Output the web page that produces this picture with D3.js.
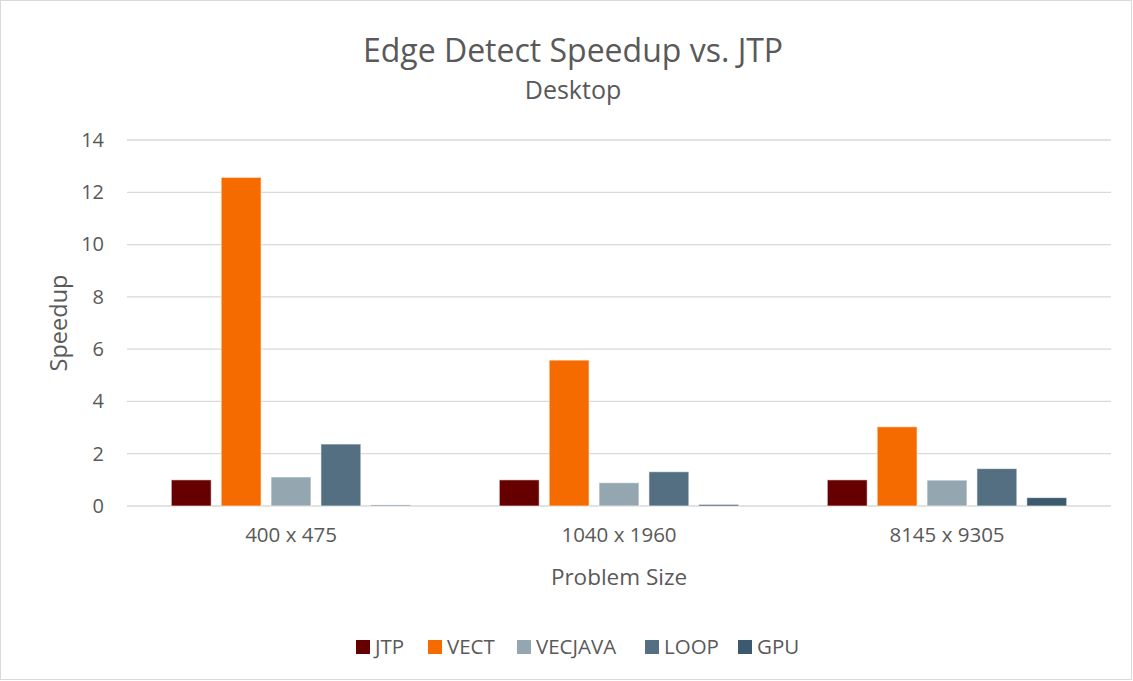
<!DOCTYPE html>
<html><head><meta charset="utf-8">
<script src="https://cdn.jsdelivr.net/npm/d3@7"></script>
<style>body{margin:0;background:#fff}svg{display:block;font-family:"Open Sans","Noto Sans",sans-serif}</style>
</head><body><svg id="c" width="1133" height="681"></svg>
<script>
const categories = ["400 x 475", "1040 x 1960", "8145 x 9305"];
const seriesNames = ["JTP", "VECT", "VECJAVA", "LOOP", "GPU"];
const JTP = [1, 1, 1];
const VECT = [12.57, 5.58, 3.03];
const VECJAVA = [1.11, 0.89, 0.99];
const LOOP = [2.37, 1.31, 1.43];
const GPU = [0.04, 0.06, 0.32];
const colors = ["#660000", "#F56B00", "#94A7B1", "#546E82", "#3B5A6E"];
const yTicks = [0, 2, 4, 6, 8, 10, 12, 14];

const seriesVals = [JTP, VECT, VECJAVA, LOOP, GPU];
const svg = d3.select("#c");
svg.append("rect").attr("x",0.5).attr("y",0.5).attr("width",1131).attr("height",679).attr("fill","#fff").attr("stroke","#d9d9d9");

const L = 127, R = 1111, T = 140, B = 506;
const y = d3.scaleLinear().domain([0, 14]).range([B, T]);
const x0 = d3.scaleBand().domain(categories).range([L, R]).paddingInner(0.27).paddingOuter(0.135);
const x1 = d3.scaleBand().domain(seriesNames).range([0, x0.bandwidth()]).paddingInner(0.2);

const txt = "#595959";
svg.append("g").selectAll("line").data(yTicks).join("line")
  .attr("x1", L).attr("x2", R).attr("y1", d => y(d)).attr("y2", d => y(d))
  .attr("stroke", "#d9d9d9").attr("stroke-width", 1.3);

const yAxis = d3.axisLeft(y).tickValues(yTicks).tickSize(0).tickPadding(23);
const gy = svg.append("g").attr("transform", `translate(${L},0)`).call(yAxis);
gy.select(".domain").remove();
gy.selectAll("text").attr("fill", txt).attr("font-size", 20).attr("font-family", '"Open Sans",sans-serif');

const xAxis = d3.axisBottom(x0).tickSize(0).tickPadding(21);
const gx = svg.append("g").attr("transform", `translate(0,${B})`).call(xAxis);
gx.select(".domain").remove();
gx.selectAll("text").attr("fill", txt).attr("font-size", 20.5).attr("font-family", '"Open Sans",sans-serif');

const data = [];
categories.forEach((c, i) => seriesNames.forEach((s, j) => data.push({c, s, v: seriesVals[j][i], col: colors[j]})));
svg.append("g").selectAll("rect").data(data).join("rect")
  .attr("x", d => x0(d.c) + x1(d.s)).attr("width", x1.bandwidth())
  .attr("y", d => y(d.v)).attr("height", d => y(0) - y(d.v))
  .attr("fill", d => d.col).attr("stroke", "#ffffff").attr("stroke-opacity", 0.6).attr("stroke-width", 1);

svg.append("text").attr("x", 573).attr("y", 62).attr("text-anchor", "middle").attr("fill", txt).attr("font-size", 32).text("Edge Detect Speedup vs. JTP");
svg.append("text").attr("x", 573).attr("y", 99).attr("text-anchor", "middle").attr("fill", txt).attr("font-size", 25).text("Desktop");
svg.append("text").attr("transform", `translate(67,${(T+B)/2}) rotate(-90)`).attr("text-anchor", "middle").attr("fill", txt).attr("font-size", 23.5).text("Speedup");
svg.append("text").attr("x", 619).attr("y", 585).attr("text-anchor", "middle").attr("fill", txt).attr("font-size", 22.5).text("Problem Size");

const legX = [356, 428, 517, 645, 738];
const lg = svg.append("g").selectAll("g").data(seriesNames).join("g")
  .attr("transform", (d, i) => `translate(${legX[i]},640)`);
lg.append("rect").attr("width", 14).attr("height", 14).attr("fill", (d, i) => colors[i]);
lg.append("text").attr("x", 19).attr("y", 14).attr("fill", txt).attr("font-size", 20.5).text(d => d);
</script></body></html>
